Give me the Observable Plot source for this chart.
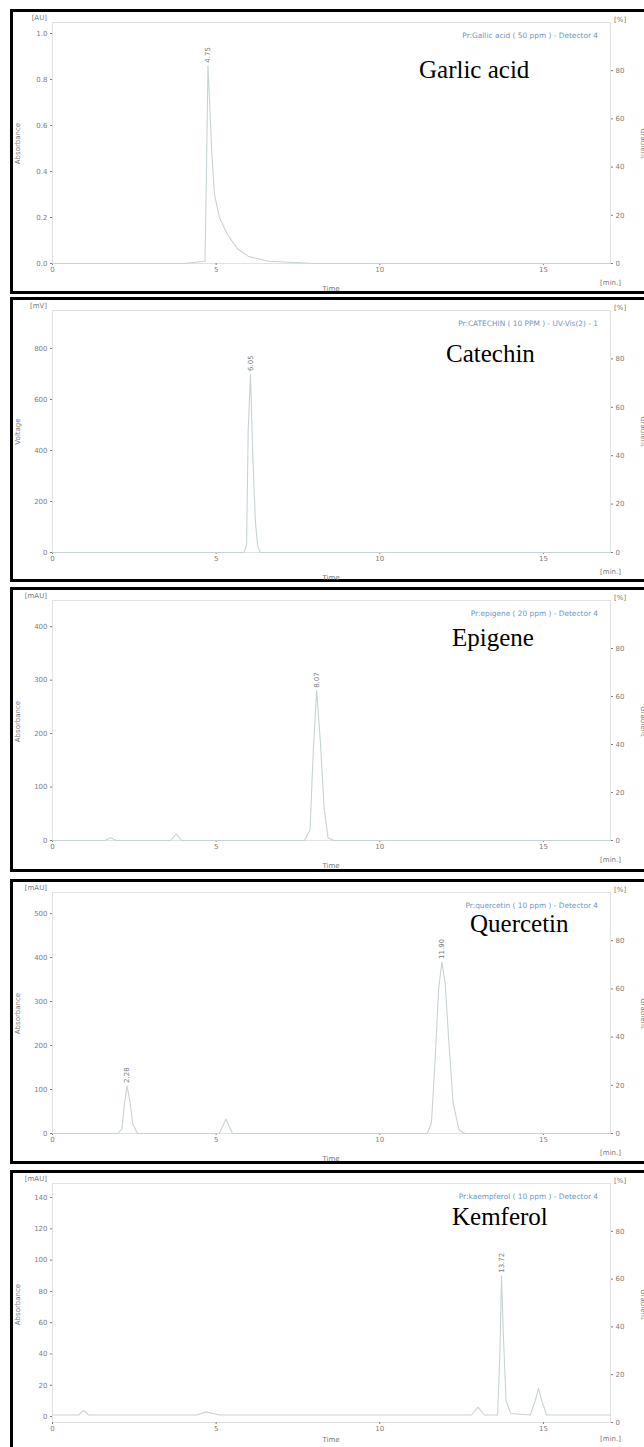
<!DOCTYPE html>
<html><head><meta charset="utf-8">
<script src="https://cdn.jsdelivr.net/npm/d3@7"></script>
<script src="https://cdn.jsdelivr.net/npm/@observablehq/plot@0.6"></script>
<style>
html,body{margin:0;padding:0;background:#fff;overflow:hidden;width:644px;height:1447px;position:relative}
.panel{position:absolute;left:10px;width:640px;height:279px;border:3px solid #000;background:#fff;overflow:hidden}
.panel svg{display:block}
.lbl{position:absolute;font-family:"DejaVu Sans",sans-serif;font-size:7px;color:#777;white-space:nowrap;line-height:1}
.title{position:absolute;font-family:"Liberation Serif","Times New Roman",serif;font-size:25px;color:#000;white-space:nowrap;line-height:1}
.legend{position:absolute;font-family:"DejaVu Sans",sans-serif;font-size:7.4px;color:#6b97c4;white-space:nowrap;line-height:1}
.rot{transform-origin:center center}
</style></head><body>
<script>
// ---- shared tick values ----
const xTicks = [0, 5, 10, 15];
const rightTicks = [0, 20, 40, 60, 80];

// ---- Panel 1: Gallic acid ----
const gallicT = [0, 0.5, 4.0, 4.66, 4.71, 4.75, 4.79, 4.86, 4.95, 5.1, 5.33, 5.64, 6.0, 6.6, 8, 12, 17.05];
const gallicV = [0, 0, 0, 0.01, 0.45, 0.86, 0.74, 0.5, 0.3, 0.2, 0.13, 0.065, 0.03, 0.01, 0, 0, 0];
const gallicPeakT = [4.75], gallicPeakV = [0.86], gallicPeakLbl = ["4.75"];
const ticks1 = [0.0, 0.2, 0.4, 0.6, 0.8, 1.0];

// ---- Panel 2: Catechin ----
const catT = [0, 5.85, 5.93, 5.98, 6.05, 6.12, 6.2, 6.27, 6.35, 17.05];
const catV = [0, 0, 30, 480, 700, 380, 120, 25, 0, 0];
const catPeakT = [6.05], catPeakV = [700], catPeakLbl = ["6.05"];
const ticks2 = [0, 200, 400, 600, 800];

// ---- Panel 3: Epigene ----
const epiT = [0, 1.6, 1.77, 1.95, 3.6, 3.78, 3.95, 7.7, 7.87, 7.97, 8.07, 8.18, 8.3, 8.42, 8.6, 17.05];
const epiV = [0, 0, 5, 0, 0, 12, 0, 0, 20, 170, 280, 190, 60, 5, 0, 0];
const epiPeakT = [8.07], epiPeakV = [280], epiPeakLbl = ["8.07"];
const ticks3 = [0, 100, 200, 300, 400];

// ---- Panel 4: Quercetin ----
const querT = [0, 2.0, 2.12, 2.2, 2.28, 2.36, 2.46, 2.6, 5.1, 5.3, 5.5, 11.45, 11.58, 11.7, 11.8, 11.9, 12.0, 12.1, 12.24, 12.42, 12.6, 17.05];
const querV = [0, 0, 10, 70, 108, 75, 20, 0, 0, 33, 0, 0, 25, 180, 330, 390, 340, 220, 70, 8, 0, 0];
const querPeakT = [2.28, 11.9], querPeakV = [108, 390], querPeakLbl = ["2.28", "11.90"];
const ticks4 = [0, 100, 200, 300, 400, 500];

// ---- Panel 5: Kemferol ----
const kemT = [0, 0.8, 0.95, 1.1, 4.4, 4.7, 5.1, 12.8, 13.0, 13.2, 13.6, 13.67, 13.72, 13.78, 13.86, 14.0, 14.6, 14.75, 14.85, 14.95, 15.1, 17.05];
const kemV = [1, 1, 4, 1, 1, 3, 1, 1, 6, 1, 1, 40, 90, 50, 10, 2, 1, 10, 18, 10, 1, 1];
const kemPeakT = [13.72], kemPeakV = [90], kemPeakLbl = ["13.72"];
const ticks5 = [0, 20, 40, 60, 80, 100, 120, 140];

const titles = ["Garlic acid", "Catechin", "Epigene", "Quercetin", "Kemferol"];
const legends = [
  "Pr:Gallic acid ( 50 ppm ) - Detector 4",
  "Pr:CATECHIN ( 10 PPM ) - UV-Vis(2) - 1",
  "Pr:epigene ( 20 ppm ) - Detector 4",
  "Pr:quercetin ( 10 ppm ) - Detector 4",
  "Pr:kaempferol ( 10 ppm ) - Detector 4"
];
const units = ["[AU]", "[mV]", "[mAU]", "[mAU]", "[mAU]"];
const yTitles = ["Absorbance", "Voltage", "Absorbance", "Absorbance", "Absorbance"];

const panels = [
  {top: 9,    t: gallicT, v: gallicV, pt: gallicPeakT, pv: gallicPeakV, pl: gallicPeakLbl, ticks: ticks1, fmt: d3.format(".1f"), ymin: 0, ymax: 1.048, mb: 28, titleL: 419, titleB: 78},
  {top: 297,  t: catT, v: catV, pt: catPeakT, pv: catPeakV, pl: catPeakLbl, ticks: ticks2, fmt: d3.format("d"), ymin: 0, ymax: 949, mb: 27, titleL: 446, titleB: 362},
  {top: 587,  t: epiT, v: epiV, pt: epiPeakT, pv: epiPeakV, pl: epiPeakLbl, ticks: ticks3, fmt: d3.format("d"), ymin: 0, ymax: 449, mb: 29, titleL: 452, titleB: 646},
  {top: 879,  t: querT, v: querV, pt: querPeakT, pv: querPeakV, pl: querPeakLbl, ticks: ticks4, fmt: d3.format("d"), ymin: 0, ymax: 548, mb: 28, titleL: 470, titleB: 932},
  {top: 1170, t: kemT, v: kemV, pt: kemPeakT, pv: kemPeakV, pl: kemPeakLbl, ticks: ticks5, fmt: d3.format("d"), ymin: -3.8, ymax: 149, mb: 30, titleL: 452, titleB: 1225}
];

const W = 640, H = 279, ML = 39, MR = 43, MT = 10;

function addLabel(cls, text, css) {
  const d = document.createElement("div");
  d.className = cls;
  d.textContent = text;
  Object.assign(d.style, css);
  document.body.appendChild(d);
  return d;
}

panels.forEach((p, i) => {
  const box = document.createElement("div");
  box.className = "panel";
  box.style.top = p.top + "px";
  document.body.appendChild(box);

  const trace = p.t.map((t, k) => ({t, v: p.v[k]}));
  const peaks = p.pt.map((t, k) => ({t, v: p.pv[k], label: p.pl[k]}));
  const span = p.ymax - p.ymin;
  const rightVals = rightTicks.map(r => p.ymin + r / 100 * span);

  const chart = Plot.plot({
    width: W, height: H,
    marginLeft: ML, marginRight: MR, marginTop: MT, marginBottom: p.mb,
    x: {domain: [0, 17.05]},
    y: {domain: [p.ymin, p.ymax]},
    style: {fontFamily: "DejaVu Sans, sans-serif", fontSize: "7px", background: "white"},
    marks: [
      Plot.frame({stroke: "#e2e2e2"}),
      Plot.axisX(xTicks, {tickSize: 2, tickPadding: 2, label: null, color: "#7c7c7c"}),
      Plot.axisY(p.ticks, {tickSize: 2, tickPadding: 3, label: null, tickFormat: p.fmt, color: "#7c7c7c"}),
      Plot.axisY(rightVals, {anchor: "right", tickSize: 2, tickPadding: 3, label: null, color: "#7c7c7c",
        tickFormat: d => Math.round((d - p.ymin) / span * 100)}),
      Plot.line(trace, {x: "t", y: "v", stroke: "#c8d3d6", strokeWidth: 1.1}),
      Plot.text(peaks, {x: "t", y: "v", text: "label", rotate: -90, textAnchor: "start", dy: -3, fill: "#7c7c7c", fontSize: 7})
    ]
  });
  box.appendChild(chart);

  const plotBottom = p.top + 3 + H - p.mb;
  addLabel("lbl", units[i], {left: "20px", width: "27px", textAlign: "right", top: (p.top + 9 - 3.5) + "px"});
  addLabel("lbl", "[%]", {left: "614px", top: (p.top + 11 - 3.5) + "px"});
  addLabel("lbl", "Time", {left: "316px", width: "30px", textAlign: "center", top: Math.min(plotBottom + 23, 1437) + "px"});
  addLabel("lbl", "[min.]", {left: "590px", width: "31px", textAlign: "right", top: Math.min(plotBottom + 17, 1436) + "px"});
  addLabel("lbl rot", yTitles[i], {left: "-7px", width: "50px", textAlign: "center", top: (p.top + 131) + "px", transform: "rotate(-90deg)"});
  addLabel("lbl rot", "Gradient", {left: "617px", width: "50px", textAlign: "center", top: (p.top + 131) + "px", transform: "rotate(90deg)"});
  addLabel("legend", legends[i], {right: "46px", top: (p.top + 27 - 3.7) + "px"});
  addLabel("title", titles[i], {left: p.titleL + "px", top: (p.titleB - 21) + "px"});
});
</script>
</body></html>
